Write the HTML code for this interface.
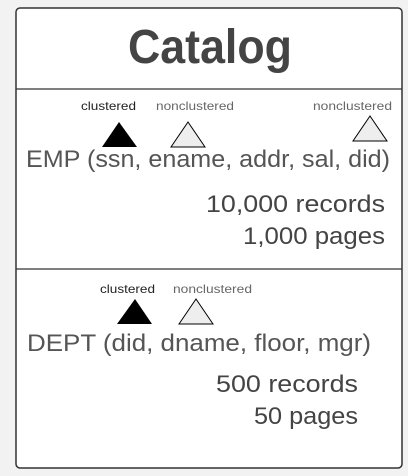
<!DOCTYPE html>
<html><head><meta charset="utf-8"><style>
html,body{margin:0;padding:0;background:#f2f2f2;width:408px;height:476px;overflow:hidden}
text{font-family:"Liberation Sans",sans-serif}
</style></head><body>
<svg width="408" height="476" viewBox="0 0 408 476" xmlns="http://www.w3.org/2000/svg">
<rect x="16" y="8" width="386" height="460" rx="4" fill="#fff" stroke="#333" stroke-width="1.5"/>
<line x1="16" y1="89" x2="402" y2="89" stroke="#333" stroke-width="1.2"/>
<line x1="16" y1="269" x2="402" y2="269" stroke="#333" stroke-width="1.2"/>
<text x="128" y="63" font-size="48" font-weight="bold" fill="#444" textLength="164" lengthAdjust="spacingAndGlyphs">Catalog</text>
<text x="81" y="110" font-size="12" fill="#222" textLength="55" lengthAdjust="spacingAndGlyphs">clustered</text>
<text x="156" y="110" font-size="12" fill="#666" textLength="78" lengthAdjust="spacingAndGlyphs">nonclustered</text>
<text x="313" y="110" font-size="12" fill="#666" textLength="79" lengthAdjust="spacingAndGlyphs">nonclustered</text>
<polygon points="119,122 102,147 137,147" fill="#000"/>
<polygon points="188,122 171,147 205,147" fill="#eee" stroke="#000" stroke-width="1"/>
<polygon points="370,116 353,141 387,141" fill="#eee" stroke="#000" stroke-width="1"/>
<text x="26" y="167" font-size="24" fill="#555" textLength="364" lengthAdjust="spacingAndGlyphs">EMP (ssn, ename, addr, sal, did)</text>
<text x="206" y="212" font-size="24" fill="#444" textLength="179" lengthAdjust="spacingAndGlyphs">10,000 records</text>
<text x="243" y="244" font-size="24" fill="#444" textLength="142" lengthAdjust="spacingAndGlyphs">1,000 pages</text>
<text x="100" y="293" font-size="12" fill="#222" textLength="55" lengthAdjust="spacingAndGlyphs">clustered</text>
<text x="173" y="293" font-size="12" fill="#666" textLength="79" lengthAdjust="spacingAndGlyphs">nonclustered</text>
<polygon points="135,299 117,324 152,324" fill="#000"/>
<polygon points="196,299 179,324 213,324" fill="#eee" stroke="#000" stroke-width="1"/>
<text x="27" y="351" font-size="24" fill="#555" textLength="344" lengthAdjust="spacingAndGlyphs">DEPT (did, dname, floor, mgr)</text>
<text x="216" y="392" font-size="24" fill="#444" textLength="142" lengthAdjust="spacingAndGlyphs">500 records</text>
<text x="254" y="424" font-size="24" fill="#444" textLength="104" lengthAdjust="spacingAndGlyphs">50 pages</text>
</svg>
</body></html>
